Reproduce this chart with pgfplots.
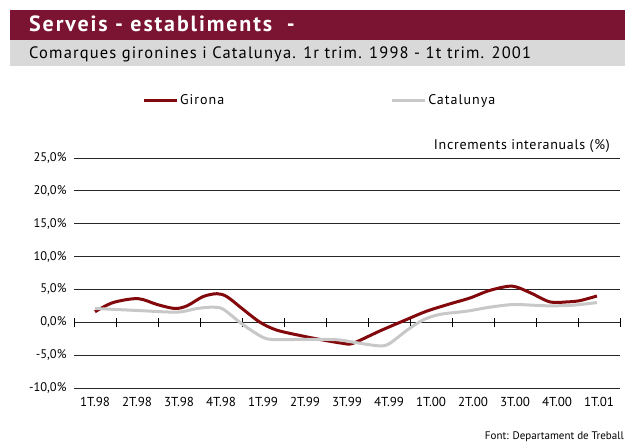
\documentclass[border=0pt]{standalone}
\usepackage{fontspec}
\setmainfont{PT Sans}
\newfontfamily\wide[LetterSpace=7]{PT Sans}
\newfontfamily\widetitle[LetterSpace=8.5]{PT Sans}
\newfontfamily\semiwide[LetterSpace=5]{PT Sans}
\usepackage{pgfplots}
\pgfplotsset{compat=1.18}

\definecolor{girona}{RGB}{130,8,12}
\definecolor{catal}{RGB}{200,200,200}
\definecolor{band}{RGB}{123,20,50}
\definecolor{subband}{RGB}{217,217,217}

\begin{document}
\begin{tikzpicture}
\fill[white] (0pt,0pt) rectangle (634pt,443pt);
% title bands
\fill[band] (10pt,403pt) rectangle (625pt,433pt);
\fill[subband] (10pt,377pt) rectangle (625pt,403pt);
\node[anchor=base west, text=white, font=\widetitle\fontsize{22}{24}\selectfont\bfseries, inner sep=0] at (29pt,411pt) {Serveis - establiments\ \ -};
\node[anchor=base west, font=\wide\fontsize{16.5}{18}\selectfont, inner sep=0] at (29pt,384pt) {Comarques gironines i Catalunya. 1r trim. 1998 - 1t trim. 2001};

\begin{axis}[
    at={(74pt,55pt)}, anchor=south west,
    scale only axis,
    width=546pt, height=230pt,
    xmin=-0.5, xmax=12.5,
    ymin=-10, ymax=25,
    axis line style={draw=none},
    ytick={-10,-5,...,25},
    ymajorgrids,
    major grid style={black!85, line width=0.9pt},
    major tick length=0pt,
    yticklabel={\pgfmathprintnumber[fixed,fixed zerofill,precision=1,use comma]{\tick}\%},
    /pgf/number format/assume math mode=true,
    yticklabel style={font=\fontsize{12.5}{14}\selectfont, xshift=-4pt},
    xtick={0,...,12},
    xticklabels={1T.98,2T.98,3T.98,4T.98,1T.99,2T.99,3T.99,4T.99,1T.00,2T.00,3T.00,4T.00,1T.01},
    xticklabel style={font=\fontsize{13}{15}\selectfont, yshift=-6pt},
    clip=false,
    legend columns=2,
    legend style={at={(0.1245,1.252)}, anchor=west, draw=none, fill=none,
        inner sep=0pt, font=\wide\fontsize{14}{16}\selectfont,
        /tikz/every even column/.append style={column sep=164pt}},
    legend image code/.code={\draw[#1] (0pt,0pt) -- (33pt,0pt);},
    legend cell align=left,
]
\pgfplotsinvokeforeach{-0.5,0.5,1.5,2.5,3.5,4.5,5.5,6.5,7.5,8.5,9.5,10.5,11.5,12.5}{
  \draw[black, line width=0.9pt] (axis cs:#1,-0.68) -- (axis cs:#1,0.68);
}
\addplot[girona, line width=3pt, smooth, tension=0.5] coordinates {
(0,1.6) (0.43,3.0) (1.02,3.6) (1.48,2.7) (1.9,2.1) (2.19,2.5) (2.57,3.9)
(2.9,4.35) (3.14,3.9) (3.52,2.0) (3.93,0.0) (4.33,-1.2) (4.95,-2.1)
(5.43,-2.7) (5.9,-3.2) (6.14,-3.2) (6.79,-1.3) (7.43,0.45) (7.9,1.7)
(8.45,2.8) (8.93,3.7) (9.4,4.85) (9.93,5.5) (10.36,4.5) (10.83,3.1)
(11.24,3.1) (11.55,3.3) (11.95,4.0)
};
\addlegendentry{Girona}
\addplot[catal, line width=3pt, smooth, tension=0.5] coordinates {
(0,2.1) (1.0,1.8) (1.95,1.55) (2.43,2.1) (2.81,2.3) (3.05,2.0) (3.45,0.0)
(3.86,-1.8) (4.17,-2.6) (4.95,-2.6) (5.43,-2.6) (5.83,-2.7) (6.31,-3.2)
(6.79,-3.6) (7.02,-3.2) (7.43,-1.2) (7.81,0.35) (8.21,1.2) (8.86,1.7)
(9.4,2.3) (9.95,2.7) (10.43,2.6) (10.83,2.5) (11.38,2.6) (11.95,3.0)
};
\addlegendentry{Catalunya}
\end{axis}

\node[anchor=east, font=\semiwide\fontsize{14}{16}\selectfont, inner sep=0] at (610pt,297pt) {Increments interanuals (\%)};
\node[anchor=south east, font=\fontsize{11}{13}\selectfont, inner sep=0] at (624pt,1pt) {Font: Departament de Treball};
\end{tikzpicture}
\end{document}
